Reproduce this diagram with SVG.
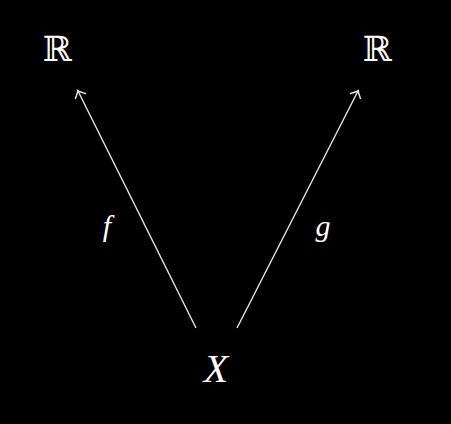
<svg xmlns="http://www.w3.org/2000/svg" width="451" height="424" viewBox="0 0 451 424">
<defs>
<style>
.lbl{fill:#fff;font-family:"Liberation Serif","DejaVu Serif",serif;font-style:italic;text-anchor:middle}
.bb{fill:#fff;font-family:"DejaVu Serif","Liberation Serif",serif;text-anchor:middle}
.edge{stroke:#e6e6e6;stroke-width:1.4;fill:none}
</style>
<marker id="to" viewBox="-8 -7 10 14" markerWidth="10" markerHeight="14" refX="0" refY="0" orient="auto" markerUnits="userSpaceOnUse">
<path d="M-6,-6 Q-1.5,-1.2 0.5,0 Q-1.5,1.2 -6,6" stroke="#e6e6e6" stroke-width="1.5" fill="none"/>
</marker>
</defs>
<rect width="451" height="424" fill="#000"/>
<g id="R1"><text class="bb" x="57" y="61" font-size="35">ℝ</text></g>
<g id="R2"><text class="bb" x="377" y="61" font-size="35">ℝ</text></g>
<g id="X"><text class="lbl" x="216" y="382" font-size="40">X</text></g>
<g id="edges">
<path class="edge" d="M196,328 L78,91" marker-end="url(#to)"/>
<path class="edge" d="M237,328 L358,91" marker-end="url(#to)"/>
<text class="lbl" x="107" y="236" font-size="30">f</text>
<text class="lbl" x="323" y="236" font-size="30">g</text>
</g>
</svg>
